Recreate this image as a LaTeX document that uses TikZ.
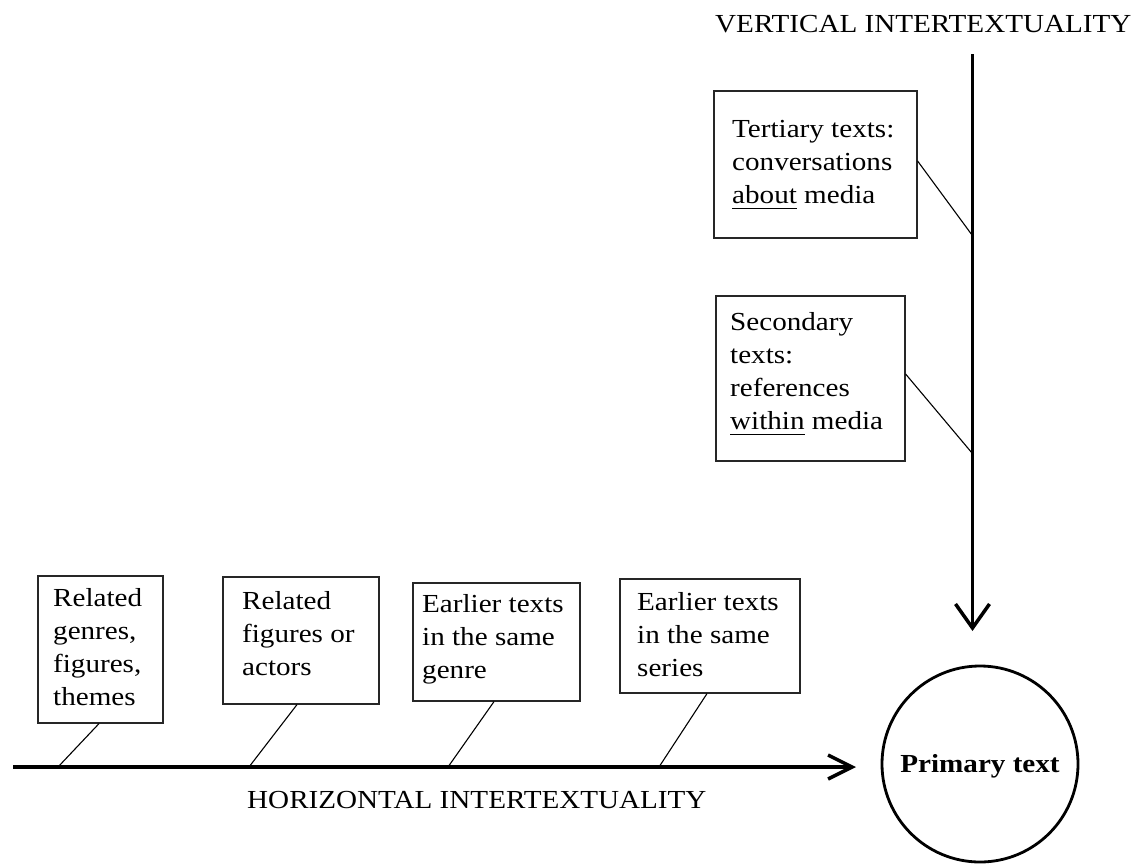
\documentclass[tikz,border=0pt]{standalone}
\usepackage{fontspec}
\setmainfont[FakeStretch=1.12]{Liberation Serif}
\usetikzlibrary{arrows.meta,calc}
\newcommand\myul[1]{\setbox0\hbox{#1}\rlap{\rule[-6pt]{\wd0}{1.3pt}}#1}
\tikzset{
  boxshape/.style={draw=black!85, line width=1.6pt, inner sep=0pt, anchor=north west},
  txt/.style={align=left, inner sep=0pt, anchor=north west, font=\fontsize{26}{33}\selectfont},
  title/.style={inner sep=0pt, anchor=base west, font=\fontsize{26}{33}\selectfont},
  link/.style={line width=1.1pt},
  mainline/.style={line width=3.4pt},
}
\begin{document}
\begin{tikzpicture}[x=1pt,y=-1pt]
\useasboundingbox (0,0) rectangle (1136,863);

% titles
\node[title] (vt) at (715,32) {VERTICAL INTERTEXTUALITY};
\node[title] (ht) at (247,808) {HORIZONTAL INTERTEXTUALITY};

% primary text circle
\node[draw, circle, line width=2.8pt, minimum size=196pt, inner sep=0pt,
      font=\fontsize{26}{33}\selectfont\bfseries, text height=17pt, text depth=0pt] (p) at (980,764) {Primary text};

% main arrows
\coordinate (hs) at (13,767);
\coordinate (he) at (856,767);
\coordinate (vs) at (972.5,54);
\coordinate (ve) at (972.5,631);
\draw[mainline, -{Straight Barb[length=24pt,width=24pt,line width=3.5pt]}] (hs) -- (he);
\draw[mainline, -{Straight Barb[length=24pt,width=34pt,line width=3.5pt]}] (vs) -- (ve);

% bottom boxes
\node[boxshape, minimum width=125pt, minimum height=147pt] (b1) at (37,575) {};
\node[txt] (t1) at (53,586) {\rule{0pt}{20pt}Related\\genres,\\figures,\\themes};
\node[boxshape, minimum width=156pt, minimum height=127pt] (b2) at (222,576) {};
\node[txt] (t2) at (242,589) {\rule{0pt}{20pt}Related\\figures or\\actors};
\node[boxshape, minimum width=167pt, minimum height=118pt] (b3) at (412,582) {};
\node[txt] (t3) at (422,592) {\rule{0pt}{20pt}Earlier texts\\in the same\\genre};
\node[boxshape, minimum width=180pt, minimum height=114pt] (b4) at (619,578) {};
\node[txt] (t4) at (637,590) {\rule{0pt}{20pt}Earlier texts\\in the same\\series};

\coordinate (h1) at (58,767);
\coordinate (h2) at (249,767);
\coordinate (h3) at (448,767);
\coordinate (h4) at (659,767);
\draw[link] ($(b1.south west)+(62,0)$) -- (h1);
\draw[link] ($(b2.south west)+(75,0)$) -- (h2);
\draw[link] ($(b3.south west)+(82,0)$) -- (h3);
\draw[link] ($(b4.south west)+(88,0)$) -- (h4);

% vertical boxes
\node[boxshape, minimum width=203pt, minimum height=147pt] (b5) at (713,90) {};
\node[txt] (t5) at (732,117) {\rule{0pt}{20pt}Tertiary texts:\\conversations\\\myul{about} media};
\node[boxshape, minimum width=189pt, minimum height=165pt] (b6) at (715,295) {};
\node[txt] (t6) at (730,310) {\rule{0pt}{20pt}Secondary\\texts:\\references\\\myul{within} media};

\coordinate (v1) at (972,235);
\coordinate (v2) at (972,453);
\draw[link] ($(b5.north east)+(0,71)$) -- (v1);
\draw[link] ($(b6.north east)+(0,79)$) -- (v2);
\end{tikzpicture}
\end{document}
